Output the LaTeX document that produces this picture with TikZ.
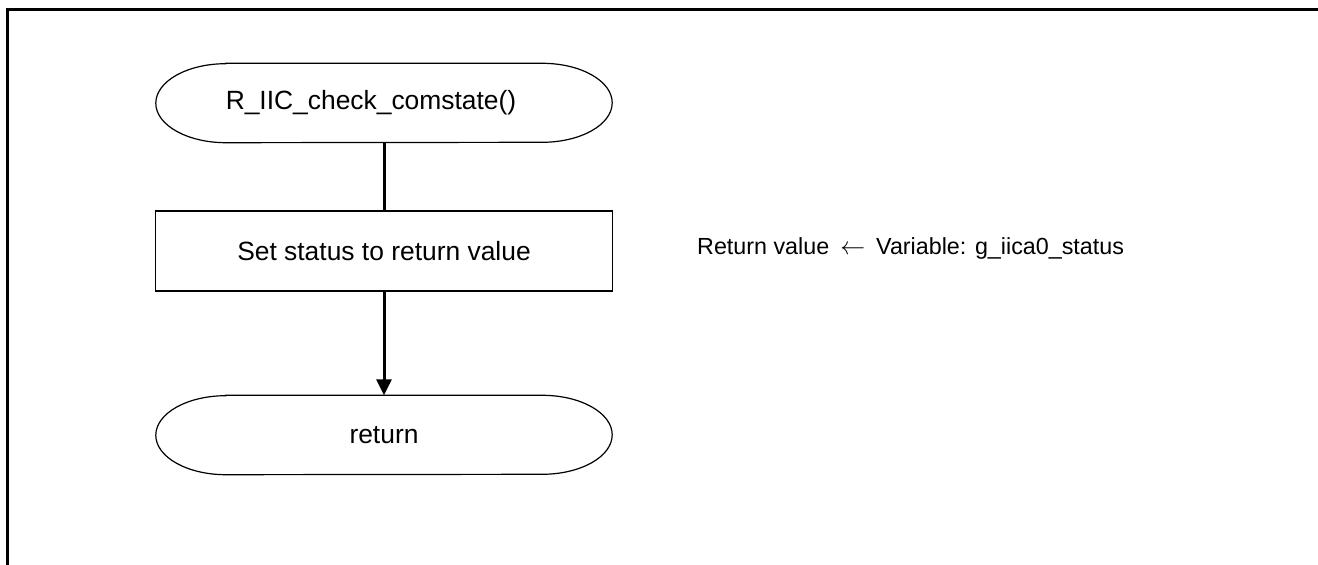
\documentclass[tikz,border=0pt]{standalone}
\usepackage{fontspec}
\setmainfont{Liberation Sans}
\usepackage{tikz}
\usetikzlibrary{positioning}
\usetikzlibrary{arrows.meta}

% stadium outline with elliptical ends round a named node
\newcommand{\drawterm}[2]{%
  \draw[line width=1.2pt] ([xshift=70pt]#1.north west) -- ([xshift=-70pt]#1.north east)
    arc[start angle=90, end angle=-90, x radius=70pt, y radius=#2]
    -- ([xshift=70pt]#1.south west)
    arc[start angle=270, end angle=90, x radius=70pt, y radius=#2]
    -- cycle;}

\begin{document}
\begin{tikzpicture}[x=1pt, y=1pt,
    term/.style = {inner sep=0pt, minimum width=456pt, minimum height=79pt, font=\fontsize{26.4}{30}\selectfont},
    proc/.style = {draw, line width=1.2pt, inner sep=0pt, minimum width=457pt, minimum height=80pt, font=\fontsize{26.4}{30}\selectfont},
    note/.style = {inner sep=0pt, anchor=base west, font=\fontsize{23.3}{28}\selectfont},
    flow/.style = {line width=3pt},
    flowarrow/.style = {line width=3pt, -{Triangle[width=15pt, length=16pt]}}]
    \useasboundingbox (0,0) rectangle (1318,565);
    % Frame
    \draw[line width=3pt] (1318,555.5) -- (7.5,555.5) -- (7.5,0);
    % Nodes
    \node[term] (start) at (384,462) {\hspace{-26pt}R\_IIC\_check\_comstate()};
    \node[proc] (status) at (384,314) {Set status to return value};
    \node[term] (ret) at (384,130) {return};
    \node[note] (retval) at (697,310) {Return value\hspace{11pt}$\leftarrow$\hspace{11pt}Variable: g\_iica0\_status};
    \drawterm{start}{39.5pt}
    \drawterm{ret}{39.5pt}
    % Edges
    \draw[flow] (start) -- (status);
    \draw[flowarrow] (status) -- (ret);
\end{tikzpicture}
\end{document}
